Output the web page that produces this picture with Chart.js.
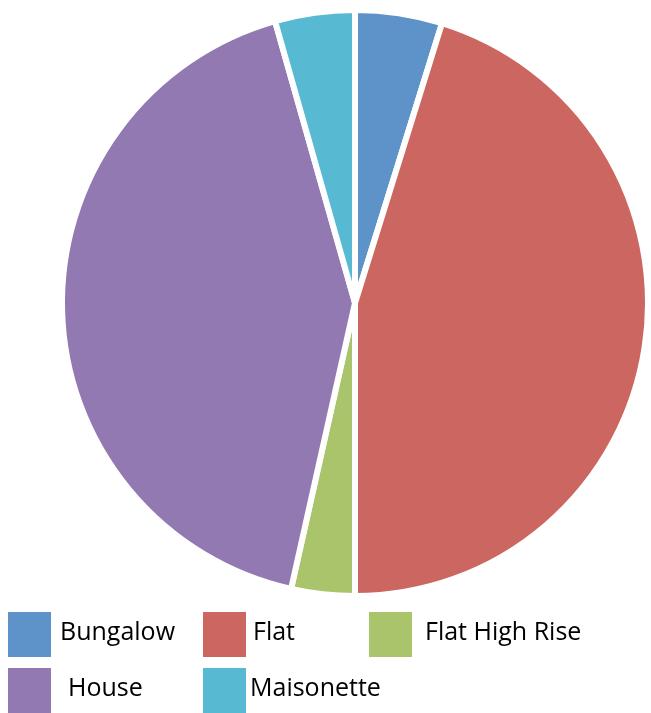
<!DOCTYPE html>
<html>
<head>
<meta charset="utf-8">
<script src="https://cdn.jsdelivr.net/npm/chart.js@4.4.1/dist/chart.umd.min.js"></script>
<style>
  html, body { margin: 0; padding: 0; background: #fff; }
  #wrap { width: 651px; height: 713px; }
</style>
</head>
<body>
<div id="wrap"><canvas id="pie"></canvas></div>
<script>
const labels = ["Bungalow", "Flat", "Flat High Rise", "House", "Maisonette"];
const shares = [4.8, 45.2, 3.5, 42.1, 4.4];
const colors = ["#5d93c8", "#cc6660", "#a9c46a", "#9279b1", "#57b9d2"];

// legend boxes laid out in a 3-column grid under the pie
const legendPlugin = {
  id: "gridLegend",
  afterDraw(chart) {
    const ctx = chart.ctx;
    const cols = [8, 203, 369];
    const textX = [60, 253, 425, 68, 250];
    const rows = [612, 668];
    ctx.save();
    ctx.font = "25px 'Open Sans'";
    ctx.textBaseline = "middle";
    chart.data.labels.forEach((label, i) => {
      const x = cols[i % 3];
      const y = rows[Math.floor(i / 3)];
      ctx.fillStyle = chart.data.datasets[0].backgroundColor[i];
      ctx.fillRect(x, y, 43, 45);
      ctx.fillStyle = "#000";
      ctx.fillText(label, textX[i], y + 21);
    });
    ctx.restore();
  },
};

new Chart(document.getElementById("pie"), {
  type: "pie",
  data: {
    labels: labels,
    datasets: [{
      data: shares,
      backgroundColor: colors,
      borderColor: "#fff",
      borderWidth: 6,
    }],
  },
  options: {
    responsive: true,
    maintainAspectRatio: false,
    animation: false,
    layout: { padding: { left: 59, right: -4, top: 5, bottom: 112 } },
    plugins: {
      legend: { display: false },
      tooltip: { enabled: false },
    },
  },
  plugins: [legendPlugin],
});
</script>
</body>
</html>
